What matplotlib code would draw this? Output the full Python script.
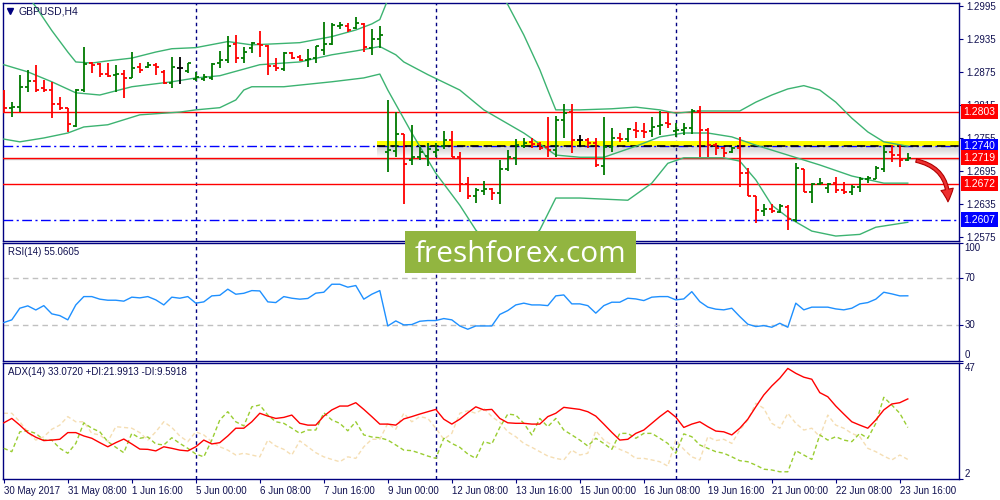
import matplotlib
matplotlib.use("Agg")
import matplotlib.pyplot as plt
import matplotlib.transforms as mtransforms
import numpy as np
from matplotlib.collections import LineCollection
from matplotlib.patches import Rectangle, FancyArrowPatch

plt.rcParams['font.family'] = ['Liberation Sans', 'DejaVu Sans']

# GBPUSD H4, bars from 30 May 2017 00:00 to 23 Jun 2017 20:00
opens = [1.2839, 1.2810, 1.2811, 1.2848, 1.2859, 1.2846, 1.2842, 1.2817, 1.2810, 1.2777,
         1.2842, 1.2891, 1.2890, 1.2871, 1.2870, 1.2871, 1.2864, 1.2884, 1.2884, 1.2888,
         1.2875, 1.2855, 1.2882, 1.2877, 1.2862, 1.2862, 1.2864, 1.2891, 1.2897, 1.2926,
         1.2900, 1.2919, 1.2926, 1.2922, 1.2886, 1.2880, 1.2910, 1.2902, 1.2897, 1.2900,
         1.2915, 1.2926, 1.2959, 1.2959, 1.2955, 1.2962, 1.2919, 1.2935, 1.2730, 1.2731,
         1.2762, 1.2715, 1.2720, 1.2722, 1.2730, 1.2740, 1.2751, 1.2720, 1.2671, 1.2650,
         1.2659, 1.2662, 1.2655, 1.2699, 1.2719, 1.2740, 1.2748, 1.2744, 1.2739, 1.2733,
         1.2788, 1.2802, 1.2751, 1.2751, 1.2746, 1.2704, 1.2739, 1.2755, 1.2753, 1.2770,
         1.2768, 1.2768, 1.2777, 1.2782, 1.2768, 1.2770, 1.2773, 1.2804, 1.2770, 1.2742,
         1.2737, 1.2730, 1.2737, 1.2691, 1.2650, 1.2622, 1.2626, 1.2620, 1.2630, 1.2606,
         1.2699, 1.2657, 1.2671, 1.2664, 1.2673, 1.2660, 1.2657, 1.2666, 1.2680, 1.2680,
         1.2699, 1.2730, 1.2724, 1.2715]
highs = [1.2842, 1.2820, 1.2870, 1.2879, 1.2888, 1.2860, 1.2857, 1.2830, 1.2810, 1.2844,
         1.2921, 1.2893, 1.2891, 1.2891, 1.2888, 1.2879, 1.2911, 1.2891, 1.2893, 1.2891,
         1.2879, 1.2902, 1.2902, 1.2891, 1.2875, 1.2871, 1.2891, 1.2913, 1.2941, 1.2942,
         1.2921, 1.2930, 1.2950, 1.2924, 1.2900, 1.2911, 1.2911, 1.2906, 1.2917, 1.2922,
         1.2966, 1.2964, 1.2966, 1.2964, 1.2975, 1.2964, 1.2953, 1.2959, 1.2824, 1.2802,
         1.2762, 1.2779, 1.2739, 1.2746, 1.2746, 1.2768, 1.2768, 1.2730, 1.2684, 1.2664,
         1.2677, 1.2664, 1.2715, 1.2733, 1.2753, 1.2755, 1.2755, 1.2748, 1.2793, 1.2795,
         1.2817, 1.2817, 1.2760, 1.2755, 1.2755, 1.2793, 1.2773, 1.2764, 1.2773, 1.2784,
         1.2782, 1.2793, 1.2804, 1.2800, 1.2782, 1.2782, 1.2808, 1.2813, 1.2773, 1.2746,
         1.2739, 1.2739, 1.2757, 1.2700, 1.2650, 1.2635, 1.2635, 1.2635, 1.2633, 1.2710,
         1.2699, 1.2673, 1.2682, 1.2673, 1.2684, 1.2675, 1.2670, 1.2684, 1.2686, 1.2704,
         1.2742, 1.2742, 1.2742, 1.2728]
lows = [1.2800, 1.2793, 1.2802, 1.2839, 1.2839, 1.2839, 1.2791, 1.2806, 1.2766, 1.2775,
        1.2839, 1.2873, 1.2866, 1.2866, 1.2839, 1.2828, 1.2864, 1.2873, 1.2882, 1.2870,
        1.2853, 1.2846, 1.2853, 1.2873, 1.2859, 1.2859, 1.2860, 1.2882, 1.2891, 1.2891,
        1.2891, 1.2910, 1.2902, 1.2870, 1.2877, 1.2877, 1.2899, 1.2895, 1.2884, 1.2891,
        1.2906, 1.2924, 1.2953, 1.2948, 1.2953, 1.2911, 1.2906, 1.2919, 1.2693, 1.2720,
        1.2635, 1.2706, 1.2715, 1.2704, 1.2720, 1.2735, 1.2720, 1.2657, 1.2644, 1.2637,
        1.2651, 1.2642, 1.2635, 1.2695, 1.2706, 1.2737, 1.2737, 1.2733, 1.2720, 1.2720,
        1.2755, 1.2728, 1.2740, 1.2737, 1.2702, 1.2688, 1.2730, 1.2748, 1.2748, 1.2755,
        1.2755, 1.2757, 1.2760, 1.2773, 1.2757, 1.2760, 1.2762, 1.2720, 1.2720, 1.2724,
        1.2720, 1.2728, 1.2666, 1.2650, 1.2600, 1.2613, 1.2619, 1.2619, 1.2588, 1.2602,
        1.2657, 1.2637, 1.2670, 1.2655, 1.2655, 1.2653, 1.2651, 1.2657, 1.2673, 1.2680,
        1.2693, 1.2711, 1.2702, 1.2713]
closes = [1.2810, 1.2811, 1.2848, 1.2859, 1.2842, 1.2842, 1.2817, 1.2810, 1.2780, 1.2842,
          1.2890, 1.2888, 1.2871, 1.2868, 1.2871, 1.2864, 1.2882, 1.2879, 1.2888, 1.2884,
          1.2855, 1.2884, 1.2882, 1.2891, 1.2866, 1.2866, 1.2890, 1.2897, 1.2922, 1.2900,
          1.2911, 1.2928, 1.2924, 1.2886, 1.2882, 1.2910, 1.2900, 1.2897, 1.2899, 1.2922,
          1.2926, 1.2960, 1.2960, 1.2951, 1.2964, 1.2921, 1.2935, 1.2942, 1.2733, 1.2762,
          1.2708, 1.2720, 1.2730, 1.2735, 1.2733, 1.2751, 1.2720, 1.2671, 1.2650, 1.2660,
          1.2662, 1.2655, 1.2699, 1.2720, 1.2742, 1.2746, 1.2744, 1.2737, 1.2733, 1.2788,
          1.2800, 1.2751, 1.2751, 1.2746, 1.2706, 1.2739, 1.2755, 1.2753, 1.2771, 1.2768,
          1.2766, 1.2775, 1.2779, 1.2780, 1.2770, 1.2773, 1.2804, 1.2770, 1.2742, 1.2737,
          1.2728, 1.2737, 1.2691, 1.2650, 1.2624, 1.2626, 1.2622, 1.2631, 1.2608, 1.2700,
          1.2657, 1.2671, 1.2673, 1.2671, 1.2660, 1.2657, 1.2666, 1.2680, 1.2682, 1.2700,
          1.2730, 1.2724, 1.2715, 1.2719]

# Bollinger bands, read at bar indices
bb_up_x = [0, 3, 4, 6, 8, 9, 11, 13, 16, 19, 21, 24, 28, 31, 34, 37, 41, 44, 46, 47,
           48, 50, 55, 60, 63, 65, 67, 68, 69, 72, 76, 79, 82, 84, 87, 92, 94, 96, 98, 100,
           102, 104, 106, 108, 110, 113]
bb_up = [1.3079, 1.3013, 1.2993, 1.2950, 1.2911, 1.2893, 1.2891, 1.2895, 1.2900, 1.2911,
         1.2917, 1.2919, 1.2930, 1.2924, 1.2926, 1.2928, 1.2939, 1.2951, 1.2962, 1.2970,
         1.3006, 1.3042, 1.3088, 1.3060, 1.2997, 1.2942, 1.2879, 1.2842, 1.2806, 1.2806,
         1.2808, 1.2811, 1.2806, 1.2800, 1.2804, 1.2804, 1.2820, 1.2833, 1.2844, 1.2850,
         1.2842, 1.2820, 1.2791, 1.2766, 1.2748, 1.2740]
bb_mid_x = [0, 3, 6, 9, 12, 16, 21, 24, 27, 30, 32, 37, 41, 44, 47, 49, 50, 53, 57, 60,
            65, 69, 72, 75, 79, 82, 85, 88, 91, 94, 98, 102, 106, 110, 113]
bb_mid = [1.2888, 1.2875, 1.2857, 1.2837, 1.2833, 1.2848, 1.2857, 1.2864, 1.2868, 1.2880,
          1.2888, 1.2893, 1.2906, 1.2913, 1.2921, 1.2906, 1.2893, 1.2870, 1.2842, 1.2806,
          1.2764, 1.2724, 1.2720, 1.2720, 1.2740, 1.2757, 1.2764, 1.2764, 1.2757, 1.2742,
          1.2724, 1.2706, 1.2686, 1.2673, 1.2673]
bb_lo_x = [0, 2, 5, 8, 10, 13, 17, 22, 24, 27, 29, 30, 31, 35, 41, 45, 47, 48, 51, 54,
           57, 59, 61, 63, 65, 67, 69, 72, 78, 81, 83, 85, 90, 92, 94, 96, 98, 101, 104, 107,
           109, 113]
bb_lo = [1.2753, 1.2748, 1.2755, 1.2764, 1.2775, 1.2779, 1.2797, 1.2802, 1.2806, 1.2810,
         1.2824, 1.2842, 1.2848, 1.2848, 1.2857, 1.2864, 1.2871, 1.2842, 1.2764, 1.2691,
         1.2633, 1.2588, 1.2555, 1.2548, 1.2560, 1.2588, 1.2646, 1.2646, 1.2642, 1.2673,
         1.2709, 1.2719, 1.2719, 1.2713, 1.2679, 1.2633, 1.2611, 1.2586, 1.2577, 1.2580,
         1.2593, 1.2602]

rsi = [32.3, 34.6, 44.5, 46.5, 43.0, 46.7, 39.7, 38.2, 34.6, 47.3,
       54.4, 54.4, 52.2, 51.3, 51.3, 50.5, 53.9, 53.3, 54.4, 51.6,
       47.3, 53.9, 53.0, 54.4, 48.8, 49.9, 55.0, 55.5, 60.7, 56.4,
       57.2, 59.5, 59.2, 49.9, 49.3, 54.4, 53.0, 52.2, 52.8, 57.3,
       58.1, 64.9, 64.9, 62.4, 63.8, 52.2, 56.4, 59.5, 29.4, 33.7,
       30.3, 30.6, 33.4, 34.0, 34.0, 35.7, 34.6, 29.4, 26.6, 29.4,
       29.4, 29.4, 39.2, 42.5, 47.3, 48.8, 47.3, 47.3, 46.7, 55.0,
       55.8, 48.2, 48.2, 46.7, 40.3, 46.7, 49.6, 49.6, 53.0, 52.4,
       51.0, 53.9, 54.4, 54.4, 51.6, 52.4, 58.6, 50.1, 45.4, 43.7,
       43.1, 44.5, 37.4, 30.9, 28.9, 29.7, 28.3, 31.7, 28.3, 48.8,
       43.1, 45.4, 45.4, 45.4, 43.9, 43.1, 44.5, 48.2, 49.3, 52.2,
       58.1, 56.7, 55.0, 55.06]

adx = [23.8, 25.5, 22.9, 20.0, 18.2, 16.9, 17.1, 17.4, 20.0, 20.0,
       18.7, 17.8, 16.1, 14.5, 16.1, 17.5, 15.6, 13.6, 13.5, 12.9,
       14.5, 13.9, 13.2, 12.9, 14.5, 17.1, 15.6, 16.1, 18.7, 21.7,
       21.7, 24.2, 27.5, 26.4, 25.5, 25.9, 26.8, 23.6, 22.9, 22.9,
       26.4, 28.8, 30.3, 30.3, 31.6, 29.0, 26.2, 23.3, 23.3, 22.9,
       25.3, 26.2, 27.2, 28.1, 29.0, 25.2, 23.3, 25.2, 27.7, 30.0,
       28.8, 29.0, 25.5, 23.8, 23.6, 23.6, 23.3, 23.3, 26.2, 27.5,
       29.8, 29.4, 29.0, 28.1, 26.4, 23.3, 20.1, 17.1, 17.4, 19.7,
       21.0, 23.6, 26.2, 28.5, 26.0, 22.0, 23.3, 24.2, 22.3, 20.6,
       20.3, 19.1, 21.7, 25.2, 30.0, 34.6, 38.1, 41.1, 44.9, 43.0,
       41.5, 40.7, 35.5, 33.9, 30.3, 27.2, 24.2, 22.9, 21.7, 24.9,
       28.8, 31.1, 31.6, 33.07]
plus_di = [13.9, 12.6, 20.3, 20.7, 19.7, 17.1, 17.1, 13.9, 12.0, 15.8,
           23.8, 21.7, 20.3, 16.5, 14.3, 12.2, 19.7, 17.8, 18.3, 15.6,
           15.2, 18.0, 15.8, 13.9, 11.7, 10.6, 17.1, 24.9, 28.1, 24.2,
           22.6, 30.0, 30.7, 26.8, 24.2, 23.6, 21.7, 19.7, 21.0, 21.0,
           27.7, 24.9, 23.6, 20.7, 24.2, 19.1, 18.3, 18.0, 17.1, 15.2,
           13.2, 13.0, 12.0, 10.9, 10.0, 17.8, 15.8, 14.3, 11.7, 10.0,
           16.5, 15.6, 22.0, 27.2, 26.8, 23.6, 19.1, 25.5, 22.3, 25.5,
           21.0, 19.1, 17.1, 14.8, 17.8, 15.8, 13.5, 19.7, 19.7, 17.8,
           19.7, 19.7, 17.8, 15.8, 12.0, 19.5, 18.4, 15.2, 13.9, 12.6,
           12.0, 10.6, 9.1, 8.7, 7.4, 5.8, 5.5, 4.8, 4.8, 13.0,
           11.3, 9.6, 19.1, 17.1, 18.4, 17.1, 16.5, 19.7, 17.8, 23.6,
           33.7, 30.7, 27.5, 21.99]
minus_di = [27.5, 27.5, 24.2, 20.3, 17.1, 18.4, 21.3, 22.9, 26.2, 24.2,
            24.2, 19.7, 19.1, 16.5, 22.3, 22.0, 21.7, 20.0, 17.1, 20.3,
            24.2, 22.0, 18.7, 16.5, 20.3, 19.1, 16.5, 14.5, 13.2, 11.3,
            12.0, 11.3, 10.6, 17.1, 14.8, 13.5, 11.3, 16.8, 14.5, 12.2,
            10.6, 9.6, 8.7, 10.6, 10.0, 14.5, 17.4, 17.4, 23.6, 21.3,
            27.5, 24.2, 26.2, 25.5, 21.7, 17.4, 19.7, 27.5, 28.5, 27.5,
            29.4, 26.2, 24.0, 20.3, 18.4, 15.8, 14.3, 12.6, 10.9, 10.0,
            9.4, 13.2, 11.3, 12.0, 20.7, 17.1, 15.2, 13.5, 12.2, 10.0,
            10.0, 9.4, 8.7, 7.0, 17.1, 13.5, 10.6, 9.4, 18.4, 16.9,
            17.4, 15.8, 21.0, 24.9, 31.4, 29.4, 23.6, 21.7, 27.5, 23.6,
            21.0, 21.7, 18.4, 26.8, 22.9, 21.7, 19.7, 18.4, 13.9, 12.6,
            10.9, 9.4, 11.3, 9.59]

price_ticks = [1.2575, 1.2635, 1.2695, 1.2755, 1.2815, 1.2875, 1.2935, 1.2995]
red_levels = [1.2803, 1.2719, 1.2672]
blue_levels = [1.2740, 1.2607]
key_level = 1.2740
week_starts = [24, 54, 84]
time_labels = ['30 May 2017', '31 May 08:00', '1 Jun 16:00', '5 Jun 00:00', '6 Jun 08:00',
               '7 Jun 16:00', '9 Jun 00:00', '12 Jun 08:00', '13 Jun 16:00', '15 Jun 00:00',
               '16 Jun 08:00', '19 Jun 16:00', '21 Jun 00:00', '22 Jun 08:00', '23 Jun 16:00']

NAVY = '#000080'
TXT = '#101050'
GREEN = '#007a00'
BB = '#3cb371'
n = len(closes)
x = np.arange(n)
xlim = (-0.1, 119.4)

fig = plt.figure(figsize=(10, 5), dpi=100)
ax = fig.add_axes([0.003, 0.518, 0.956, 0.476])
ax_rsi = fig.add_axes([0.003, 0.279, 0.956, 0.235])
ax_adx = fig.add_axes([0.003, 0.042, 0.956, 0.232])

for a in (ax, ax_rsi, ax_adx):
    a.set_xlim(*xlim)
    for s in a.spines.values():
        s.set_color(NAVY)
        s.set_linewidth(1)
    for w in week_starts:
        a.axvline(w, color=NAVY, lw=1, ls=(0, (2.5, 2.5)), zorder=1)
    a.yaxis.tick_right()
    a.tick_params(axis='y', colors=NAVY, labelcolor=TXT, labelsize=7, length=3, pad=2)

# ---- price panel
ax.set_ylim(1.2568, 1.3000)
ax.set_yticks(price_ticks)
ax.set_yticklabels(['%.4f' % t for t in price_ticks])
ax.set_xticks([])

# key level highlight with shadow
x0, x1 = 46.6, 119.4
ax.fill_between([x0, x1], key_level, key_level + 0.0009, color='#ffff00', lw=0, zorder=2)
for k in range(10):
    ax.fill_between([x0, x1], key_level - 0.0002 * (k + 1), key_level - 0.0002 * k,
                    color='#707070', alpha=0.32 * (1 - k / 10.0), lw=0, zorder=2)

for lv in red_levels:
    ax.axhline(lv, color='red', lw=1, zorder=3)
ax.axhline(1.27165, color='#c8c8c8', lw=1, zorder=2)
for lv in blue_levels:
    ax.axhline(lv, color='blue', lw=1, ls=(0, (7, 2.5, 1.5, 2.5)), zorder=3)
ax.plot([x0, x1], [key_level, key_level], color='black', lw=1.2, ls=(0, (5, 3)), zorder=3)

ax.plot(bb_up_x, bb_up, color=BB, lw=1, zorder=3)
ax.plot(bb_mid_x, bb_mid, color=BB, lw=1, zorder=3)
ax.plot(bb_lo_x, bb_lo, color=BB, lw=1, zorder=3)

segs, cols = [], []
for i in range(n):
    if closes[i] > opens[i]:
        c = GREEN
    elif closes[i] < opens[i]:
        c = 'red'
    else:
        c = 'black'
    segs.append([(i, lows[i]), (i, highs[i])])
    segs.append([(i - 0.4, opens[i]), (i, opens[i])])
    segs.append([(i, closes[i]), (i + 0.4, closes[i])])
    cols += [c] * 3
ax.add_collection(LineCollection(segs, colors=cols, linewidths=1.3, zorder=4))

ax.plot([0.0075], [0.966], marker='v', ms=4, color=NAVY, transform=ax.transAxes)
ax.text(0.016, 0.966, 'GBPUSD,H4', transform=ax.transAxes, fontsize=7.5,
        color=TXT, va='center', ha='left')

trans = mtransforms.blended_transform_factory(ax.transAxes, ax.transData)
for lv, fc in [(1.2803, 'red'), (1.2740, 'blue'), (1.2719, 'red'), (1.2672, 'red'), (1.2607, 'blue')]:
    ax.text(1.0048, lv, '%.4f' % lv, transform=trans, fontsize=7.5, color='white',
            ha='left', va='center', clip_on=False, zorder=6,
            bbox=dict(boxstyle='square,pad=0.25', fc=fc, ec='none'))

arrow = FancyArrowPatch((113.7, 1.2715), (118.0, 1.2634), connectionstyle='arc3,rad=-0.45',
                        arrowstyle='simple,head_length=9,head_width=9,tail_width=2.5',
                        fc='#ee3030', ec='#b00000', lw=0.8, zorder=6)
ax.add_patch(arrow)

# ---- RSI panel
ax_rsi.plot(x, rsi, color='#1e90ff', lw=1, zorder=3)
for lv in (70, 30):
    ax_rsi.axhline(lv, color='#c0c0c0', lw=1, ls=(0, (4, 3)), zorder=1)
ax_rsi.set_ylim(0, 100)
ax_rsi.set_yticks([0, 30, 70, 100])
ax_rsi.set_yticklabels([])
ax_rsi.set_xticks([])
rtrans = mtransforms.blended_transform_factory(ax_rsi.transAxes, ax_rsi.transData)
for v, va in [(100, 'top'), (70, 'center'), (30, 'center'), (0, 'bottom')]:
    ax_rsi.text(1.006, v, str(v), transform=rtrans, fontsize=7, color=TXT,
                ha='left', va=va, clip_on=False)
ax_rsi.text(0.005, 0.923, 'RSI(14) 55.0605', transform=ax_rsi.transAxes, fontsize=7,
            color=TXT, va='center', ha='left')

# ---- ADX panel
ax_adx.plot(x, minus_di, color='#f5deb3', lw=1, ls=(0, (3, 2)), zorder=2)
ax_adx.plot(x, plus_di, color='#9acd32', lw=1, ls=(0, (3, 2)), zorder=3)
ax_adx.plot(x, adx, color='red', lw=1, zorder=4)
ax_adx.set_ylim(2, 47)
ax_adx.set_yticks([2, 47])
ax_adx.set_yticklabels([])
atrans = mtransforms.blended_transform_factory(ax_adx.transAxes, ax_adx.transData)
for v, va in [(47, 'top'), (2, 'bottom')]:
    ax_adx.text(1.006, v, str(v), transform=atrans, fontsize=7, color=TXT,
                ha='left', va=va, clip_on=False)
ax_adx.text(0.005, 0.922, 'ADX(14) 33.0720 +DI:21.9913 -DI:9.5918', transform=ax_adx.transAxes,
            fontsize=7, color=TXT, va='center', ha='left')
ax_adx.set_xticks(range(0, 8 * len(time_labels), 8))
ax_adx.set_xticklabels(time_labels, ha='left')
ax_adx.tick_params(axis='x', colors=NAVY, labelcolor=TXT, labelsize=7, length=3, pad=2)

# watermark logo
fig.add_artist(Rectangle((0.405, 0.4546), 0.2307, 0.0834, transform=fig.transFigure,
                         fc='#92b540', ec='none', zorder=10))
fig.text(0.5205, 0.476, 'freshforex.com', fontsize=21.5, color='white', ha='center',
         va='baseline', family=['Open Sans', 'DejaVu Sans'], zorder=11)

fig.savefig('out.png', dpi=100, facecolor='white')
